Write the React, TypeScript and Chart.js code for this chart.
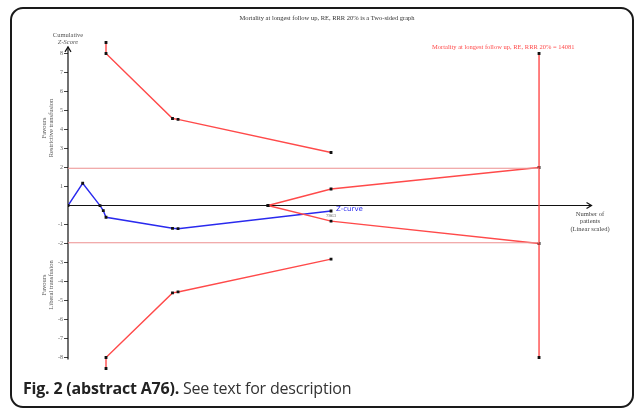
import React, { useEffect, useRef } from "react";
import { Chart, registerables } from "chart.js";

Chart.register(...registerables);

// ---- data (x = cumulative number of patients, y = cumulative Z-score) ----
const RIS = 14081;
const zCurveX = [0, 439, 957, 1055, 1136, 3124, 3289, 7863];
const zCurveY = [0, 1.17, -0.01, -0.27, -0.62, -1.2, -1.22, -0.29];
const upperBoundX = [1136, 1136, 3124, 3289, 7863];
const upperBoundY = [8.58, 8.0, 4.58, 4.53, 2.79];
const lowerBoundX = [1136, 1136, 3124, 3289, 7863];
const lowerBoundY = [-8.58, -8.0, -4.6, -4.55, -2.82];
const futilityX = [5979, 7863, RIS];
const futilityUpperY = [0, 0.87, 2.0];
const futilityLowerY = [0, -0.82, -2.0];
const risLineY = [8.0, -8.0];
const conventionalZ = [1.96, -1.96];
const yTickValues = [8, 7, 6, 5, 4, 3, 2, 1, -1, -2, -3, -4, -5, -6, -7, -8];
const lastAccrual = "7863";

const RED = "#ff4a4a";
const BLUE = "#2a2aee";
const SERIF = "'Liberation Serif', 'DejaVu Serif', serif";

const pts = (xs: number[], ys: number[]) => xs.map((x, i) => ({ x, y: ys[i] }));

const overlay = {
  id: "tsaOverlay",
  beforeDatasetsDraw(chart: any) {
    const { ctx } = chart;
    const xs = chart.scales.x;
    const ys = chart.scales.y;
    const x0 = xs.getPixelForValue(0);
    const y0 = ys.getPixelForValue(0);
    ctx.save();
    ctx.strokeStyle = "#111";
    ctx.fillStyle = "#111";
    ctx.lineWidth = 1.2;
    // x axis with arrow
    const xEnd = xs.getPixelForValue(15650);
    ctx.beginPath();
    ctx.moveTo(x0, y0);
    ctx.lineTo(xEnd, y0);
    ctx.stroke();
    ctx.beginPath();
    ctx.moveTo(xEnd - 5, y0 - 3);
    ctx.lineTo(xEnd, y0);
    ctx.lineTo(xEnd - 5, y0 + 3);
    ctx.stroke();
    // y axis with arrow
    const yTop = ys.getPixelForValue(8.35);
    const yBot = ys.getPixelForValue(-8.1);
    ctx.beginPath();
    ctx.moveTo(x0, yBot);
    ctx.lineTo(x0, yTop);
    ctx.stroke();
    ctx.beginPath();
    ctx.moveTo(x0 - 3, yTop + 5);
    ctx.lineTo(x0, yTop);
    ctx.lineTo(x0 + 3, yTop + 5);
    ctx.stroke();
    // y ticks
    ctx.lineWidth = 0.8;
    ctx.font = `6px ${SERIF}`;
    ctx.textAlign = "right";
    ctx.textBaseline = "middle";
    ctx.fillStyle = "#666";
    yTickValues.forEach((v) => {
      const py = ys.getPixelForValue(v);
      ctx.beginPath();
      ctx.moveTo(x0 - 4, py);
      ctx.lineTo(x0, py);
      ctx.stroke();
      ctx.fillText(String(v), x0 - 5, py);
    });
    ctx.restore();
  },
  afterDraw(chart: any) {
    const { ctx } = chart;
    const xs = chart.scales.x;
    const ys = chart.scales.y;
    const x0 = xs.getPixelForValue(0);
    ctx.save();
    ctx.textAlign = "center";
    ctx.textBaseline = "middle";
    // title
    ctx.fillStyle = "#333";
    ctx.font = `6.5px ${SERIF}`;
    ctx.fillText("Mortality at longest follow up, RE, RRR 20% is a Two-sided graph", 327, 18);
    // RIS label
    ctx.fillStyle = RED;
    ctx.textAlign = "left";
    ctx.fillText(`Mortality at longest follow up, RE, RRR 20% = ${RIS}`, 432, 47);
    // y title
    ctx.fillStyle = "#555";
    ctx.textAlign = "center";
    ctx.fillText("Cumulative", x0, 35);
    ctx.font = `italic 6.5px ${SERIF}`;
    ctx.fillText("Z-Score", x0, 42);
    // rotated favours labels
    ctx.font = `6.5px ${SERIF}`;
    const rot = (lines: string[], cx: number, cy: number) => {
      ctx.save();
      ctx.translate(cx, cy);
      ctx.rotate(-Math.PI / 2);
      lines.forEach((l, i) => ctx.fillText(l, 0, (i - (lines.length - 1) / 2) * 7));
      ctx.restore();
    };
    rot(["Favours", "Restrictive transfusion"], 48, 128);
    rot(["Favours", "Liberal transfusion"], 48, 285);
    // x axis title
    ctx.fillStyle = "#444";
    ["Number of", "patients", "(Linear scaled)"].forEach((l, i) =>
      ctx.fillText(l, 590, 214 + i * 7.5)
    );
    // z-curve label
    const ex = xs.getPixelForValue(zCurveX[zCurveX.length - 1]);
    const ey = ys.getPixelForValue(zCurveY[zCurveY.length - 1]);
    ctx.fillStyle = BLUE;
    ctx.textAlign = "left";
    ctx.font = `7px 'DejaVu Sans', sans-serif`;
    ctx.fillText("Z-curve", ex + 5, ey - 2);
    ctx.fillStyle = "#666";
    ctx.textAlign = "center";
    ctx.font = `5px ${SERIF}`;
    ctx.fillText(lastAccrual, ex, ey + 5);
    ctx.restore();
  },
};

export default function App() {
  const ref = useRef<HTMLCanvasElement | null>(null);
  useEffect(() => {
    if (!ref.current) return;
    const boundary = (data: any[], color: string, withPoints = true, width = 1.4) => ({
      data,
      borderColor: color,
      backgroundColor: "#111",
      borderWidth: width,
      pointStyle: "rect" as const,
      pointRadius: withPoints ? 2 : 0,
      pointBorderWidth: 0,
      pointBackgroundColor: "#111",
      showLine: true,
      tension: 0,
    });
    const chart = new Chart(ref.current, {
      type: "scatter",
      data: {
        datasets: [
          boundary(pts([0, RIS], [conventionalZ[0], conventionalZ[0]]), "#ec8f8f", false, 1.2),
          boundary(pts([0, RIS], [conventionalZ[1], conventionalZ[1]]), "#ec8f8f", false, 1.2),
          boundary(pts([RIS, RIS], risLineY), RED),
          boundary(pts(upperBoundX, upperBoundY), RED),
          boundary(pts(lowerBoundX, lowerBoundY), RED),
          boundary(pts(futilityX, futilityUpperY), RED),
          boundary(pts(futilityX, futilityLowerY), RED),
          boundary(pts(zCurveX, zCurveY), BLUE),
        ],
      },
      options: {
        responsive: false,
        animation: false,
        events: [],
        layout: { padding: { left: 68, right: 40.8, top: 34.5, bottom: 34.5 } },
        plugins: { legend: { display: false }, tooltip: { enabled: false }, title: { display: false } },
        scales: {
          x: { type: "linear", min: 0, max: 15700, display: false },
          y: { type: "linear", min: -9, max: 9, display: false },
        },
      },
      plugins: [overlay],
    });
    return () => chart.destroy();
  }, []);

  return (
    <div style={{ position: "absolute", left: 0, top: 0, width: 634, height: 411, background: "#fff", overflow: "hidden" }}>
      <canvas ref={ref} width={634} height={411} style={{ position: "absolute", left: 0, top: 0 }} />
      <div
        style={{
          position: "absolute",
          left: 10,
          top: 7,
          width: 624,
          height: 401,
          boxSizing: "border-box",
          border: "2px solid #1a1a1a",
          borderRadius: 13,
          pointerEvents: "none",
        }}
      />
      <div
        style={{
          position: "absolute",
          left: 23,
          top: 377,
          fontFamily: "'Open Sans', sans-serif",
          fontSize: 16,
          color: "#333",
          whiteSpace: "nowrap",
          letterSpacing: -0.2,
        }}
      >
        <b style={{ color: "#222" }}>Fig. 2 (abstract A76).</b> See text for description
      </div>
    </div>
  );
}
